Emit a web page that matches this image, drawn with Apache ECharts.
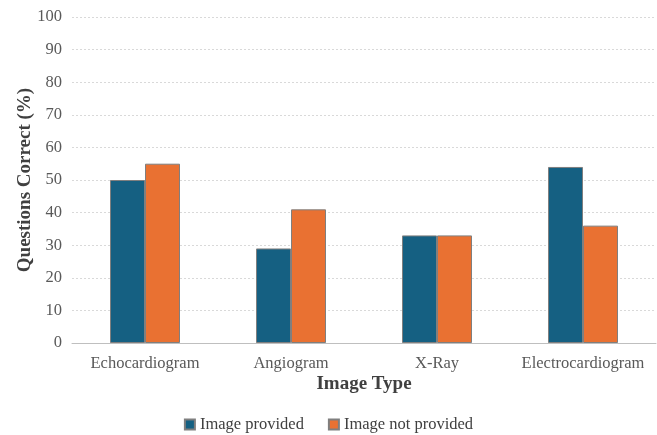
<!DOCTYPE html>
<html><head><meta charset="utf-8">
<script src="https://cdn.jsdelivr.net/npm/echarts@6/dist/echarts.min.js"></script>
<style>html,body{margin:0;padding:0;background:#fff}#c{width:657px;height:435px}</style>
</head><body><div id="c"></div>
<script>
const categories = ['Echocardiogram', 'Angiogram', 'X-Ray', 'Electrocardiogram'];
const imageProvided = [50, 29, 33, 54];
const imageNotProvided = [55, 41, 33, 36];
const yTicks = { min: 0, max: 100, interval: 10 };

const font = 'Liberation Serif';
const chart = echarts.init(document.getElementById('c'), null, { renderer: 'canvas' });
chart.setOption({
  animation: false,
  textStyle: { fontFamily: font },
  grid: { left: 72, right: 1, top: 17, bottom: 92, outerBoundsMode: 'none', containLabel: false },
  legend: {
    top: 411, left: 'center', itemWidth: 10, itemHeight: 10, itemGap: 24,
    icon: 'rect',
    textStyle: { fontFamily: font, fontSize: 16.5, color: '#404040' },
    data: ['Image provided', 'Image not provided']
  },
  xAxis: {
    type: 'category', data: categories,
    name: 'Image Type', nameLocation: 'middle', nameGap: 32, nameMoveOverlap: false,
    nameTextStyle: { fontFamily: font, fontSize: 19, fontWeight: 'bold', color: '#404040' },
    axisLine: { lineStyle: { color: '#bfbfbf' } },
    axisTick: { show: false },
    axisLabel: { interval: 0, fontFamily: font, fontSize: 16.5, color: '#595959', margin: 12 }
  },
  yAxis: {
    type: 'value', min: yTicks.min, max: yTicks.max, interval: yTicks.interval,
    name: 'Questions Correct (%)', nameLocation: 'middle', nameGap: 37, nameMoveOverlap: false,
    nameTextStyle: { fontFamily: font, fontSize: 19, fontWeight: 'bold', color: '#404040' },
    axisLine: { show: false }, axisTick: { show: false },
    axisLabel: { fontFamily: font, fontSize: 16.5, color: '#595959', margin: 10 },
    splitLine: { lineStyle: { color: '#d9d9d9', type: [2, 2] } }
  },
  series: [
    { name: 'Image provided', type: 'bar', data: imageProvided, barWidth: 35, barGap: '0%',
      itemStyle: { color: '#156082', borderColor: '#7f7f7f', borderWidth: 1 } },
    { name: 'Image not provided', type: 'bar', data: imageNotProvided, barWidth: 35, barGap: '0%',
      itemStyle: { color: '#E97132', borderColor: '#7f7f7f', borderWidth: 1 } }
  ]
});
</script></body></html>
